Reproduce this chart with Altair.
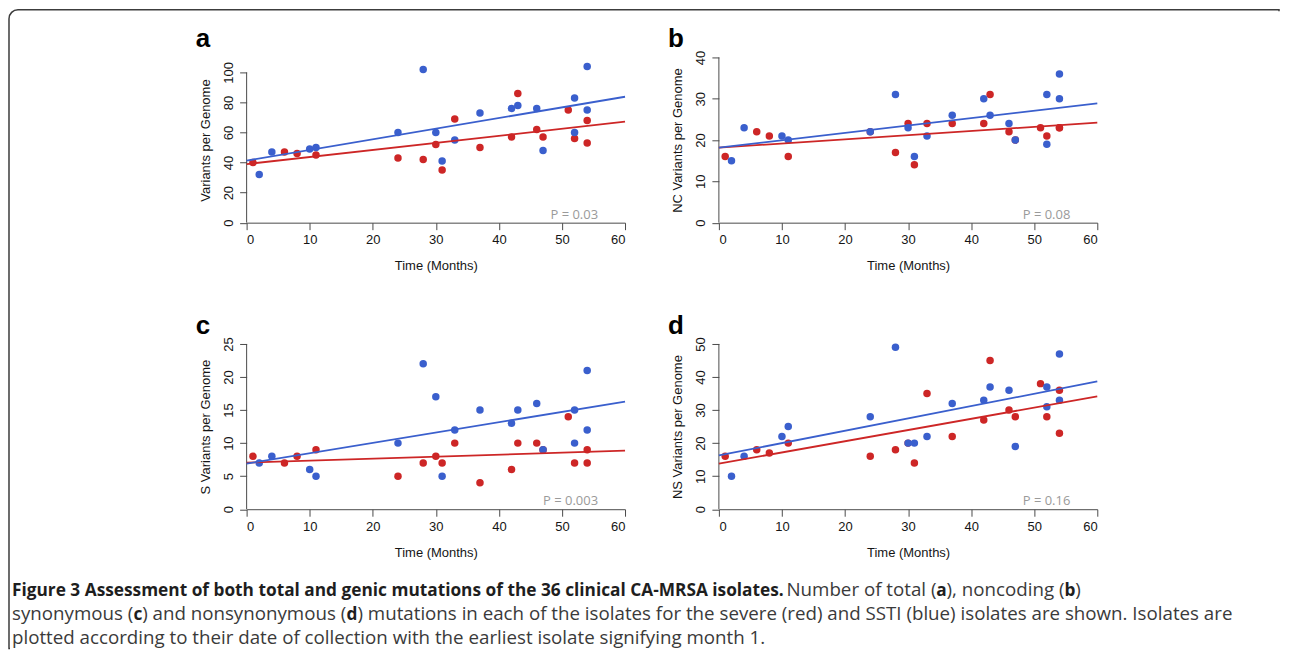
import altair as alt
import pandas as pd

# ---------------- data ----------------
months_severe = [1, 6, 8, 11, 24, 28, 30, 31, 33, 37, 42, 43, 46, 47, 51, 52, 54, 54]
months_ssti = [2, 4, 10, 11, 24, 28, 30, 31, 33, 37, 42, 43, 46, 47, 52, 52, 54, 54]

total_severe = [40, 47, 46, 45, 43, 42, 52, 35, 69, 50, 57, 86, 62, 57, 75, 56, 68, 53]
total_ssti = [32, 47, 49, 50, 60, 102, 60, 41, 55, 73, 76, 78, 76, 48, 83, 60, 104, 75]
nc_severe = [16, 22, 21, 16, 22, 17, 24, 14, 24, 24, 24, 31, 22, 20, 23, 21, 23, 23]
nc_ssti = [15, 23, 21, 20, 22, 31, 23, 16, 21, 26, 30, 26, 24, 20, 31, 19, 36, 30]
s_severe = [8, 7, 8, 9, 5, 7, 8, 7, 10, 4, 6, 10, 10, 9, 14, 7, 9, 7]
s_ssti = [7, 8, 6, 5, 10, 22, 17, 5, 12, 15, 13, 15, 16, 9, 15, 10, 21, 12]
ns_severe = [16, 18, 17, 20, 16, 18, 20, 14, 35, 22, 27, 45, 30, 28, 38, 28, 36, 23]
ns_ssti = [10, 16, 22, 25, 28, 49, 20, 20, 22, 32, 33, 37, 36, 19, 37, 31, 47, 33]

panel_letters = ["a", "b", "c", "d"]
y_titles = ["Variants per Genome", "NC Variants per Genome",
            "S Variants per Genome", "NS Variants per Genome"]
y_max = [110, 40, 25, 50]
y_tick_top = [100, 40, 25, 50]
y_tick_step = [20, 10, 5, 10]
p_texts = ["P = 0.03", "P = 0.08", "P = 0.003", "P = 0.16"]
x_ticks = [0, 10, 20, 30, 40, 50, 60]

RED = "#CD2626"
BLUE = "#3A5FCD"
AX = "#4a4a4a"
W, H = 379, 165.5

# caption
caption_lines = [
    [("Figure 3 Assessment of both total and genic mutations of the 36 clinical CA-MRSA isolates.", True),
     (" Number of total (", False), ("a", True), ("), noncoding (", False), ("b", True), (")", False)],
    [("synonymous (", False), ("c", True), (") and nonsynonymous (", False), ("d", True),
     (") mutations in each of the isolates for the severe (red) and SSTI (blue) isolates are shown. Isolates are", False)],
    [("plotted according to their date of collection with the earliest isolate signifying month 1.", False)],
]

# approximate Open Sans advance widths (units per 2048 em) for laying out caption segments
REG = {' ': 532, '(': 604, ')': 604, ',': 500, '.': 545, '-': 659, '1': 1171, '3': 1171, '6': 1171,
       'A': 1296, 'C': 1292, 'I': 623, 'M': 1849, 'N': 1516, 'R': 1268, 'S': 1094, 'T': 1098, 'F': 1063,
       'a': 1139, 'b': 1255, 'c': 975, 'd': 1255, 'e': 1149, 'f': 694, 'g': 1122, 'h': 1257, 'i': 518,
       'k': 1075, 'l': 518, 'm': 1905, 'n': 1257, 'o': 1237, 'p': 1255, 'r': 836, 's': 977, 't': 723,
       'u': 1257, 'v': 1026, 'w': 1593, 'y': 1028, 'x': 1073}
BOLD = {' ': 532, '(': 717, ')': 717, '.': 586, '-': 659, '3': 1171, '6': 1171, 'A': 1419, 'C': 1309,
        'F': 1141, 'M': 1974, 'R': 1362, 'S': 1104, 'a': 1200, 'b': 1268, 'c': 1006, 'd': 1268, 'e': 1188,
        'f': 770, 'g': 1128, 'h': 1319, 'i': 610, 'l': 610, 'm': 1989, 'n': 1319, 'o': 1243, 'r': 907,
        's': 1006, 't': 840, 'u': 1319, 'v': 1141, 'y': 1141}
REG_SIZE = 18.75
BOLD_SIZE = 17.3


def text_width(s, bold):
    tbl = BOLD if bold else REG
    size = BOLD_SIZE if bold else REG_SIZE
    k = 1.015 if bold else 1.0
    return sum(tbl.get(ch, 1150) for ch in s) * size / 2048.0 * k


series = {
    "a": (total_severe, total_ssti),
    "b": (nc_severe, nc_ssti),
    "c": (s_severe, s_ssti),
    "d": (ns_severe, ns_ssti),
}


def panel(i):
    letter = panel_letters[i]
    sev, ssti = series[letter]
    df = pd.DataFrame({
        "month": months_severe + months_ssti,
        "value": sev + ssti,
        "group": ["Severe"] * len(sev) + ["SSTI"] * len(ssti),
    })
    color = alt.Color("group:N", scale=alt.Scale(domain=["Severe", "SSTI"], range=[RED, BLUE]), legend=None)
    x = alt.X("month:Q", scale=alt.Scale(domain=[0, 60], nice=False, zero=False),
              axis=alt.Axis(values=x_ticks, title="Time (Months)", format="d"))
    y = alt.Y("value:Q", scale=alt.Scale(domain=[0, y_max[i]], nice=False),
              axis=alt.Axis(values=list(range(0, y_tick_top[i] + 1, y_tick_step[i])),
                            title=y_titles[i], domain=False, format="d",
                            labelAngle=270, labelAlign="center", labelBaseline="bottom"))

    yaxis_line = alt.Chart(pd.DataFrame({"value": [0], "value2": [y_tick_top[i]]})).mark_rule(
        color=AX, strokeWidth=1).encode(x=alt.datum(0), y=y, y2="value2:Q")
    pts = alt.Chart(df).mark_circle(size=56, opacity=1).encode(x=x, y=y, color=color)
    fit = alt.Chart(df).transform_regression(
        "month", "value", groupby=["group"], extent=[0, 60]
    ).mark_line(strokeWidth=1.8).encode(x=x, y=y, color=color)
    ptxt = alt.Chart(pd.DataFrame({"t": [p_texts[i]]})).mark_text(
        align="right", baseline="alphabetic", fontSize=13, font="Open Sans", color="#9a9a9a"
    ).encode(x=alt.value(W - 27), y=alt.value(H - 4), text="t:N")
    ltxt = alt.Chart(pd.DataFrame({"t": [letter]})).mark_text(
        align="left", baseline="alphabetic", fontSize=26, fontWeight="bold",
        font="Liberation Sans", color="#000000"
    ).encode(x=alt.value(-51), y=alt.value(-10), text="t:N")
    layers = [yaxis_line, pts, fit, ptxt, ltxt]

    if letter == "c":
        # figure frame (runs out of view at the right and bottom), relative to panel c plot origin
        fx1, fx2, fy1, fy2 = -238, 1034, -334.75, 305
        frame = alt.Chart(pd.DataFrame({"t": [0]})).mark_rect(
            fillOpacity=0, stroke="#3c3c3c", strokeWidth=1.5, cornerRadiusTopLeft=9
        ).encode(x=alt.value(fx1), x2=alt.value(fx2), y=alt.value(fy1), y2=alt.value(fy2))
        cover_bottom = alt.Chart(pd.DataFrame({"t": [0]})).mark_rule(
            stroke="white", strokeWidth=3
        ).encode(x=alt.value(fx1 + 1), x2=alt.value(fx2 + 1), y=alt.value(fy2))
        cover_right = alt.Chart(pd.DataFrame({"t": [0]})).mark_rule(
            stroke="white", strokeWidth=3
        ).encode(x=alt.value(fx2), y=alt.value(fy1 + 1.5), y2=alt.value(fy2 + 1))
        layers = [frame, cover_bottom, cover_right] + layers
        baselines = [252.5, 276.5, 300.5]
        for li, segs in enumerate(caption_lines):
            cx = -235.0
            for txt, bold in segs:
                lead = len(txt) - len(txt.lstrip(" "))
                cx += text_width(" " * lead, bold)
                t = txt.lstrip(" ")
                layers.append(
                    alt.Chart(pd.DataFrame({"t": [t]})).mark_text(
                        align="left", baseline="alphabetic",
                        fontSize=BOLD_SIZE if bold else REG_SIZE, font="Open Sans",
                        fontWeight="bold" if bold else "normal",
                        color="#1e1e1e" if bold else "#3a3a3a"
                    ).encode(x=alt.value(cx), y=alt.value(baselines[li]), text="t:N")
                )
                cx += text_width(t, bold)

    return alt.layer(*layers).properties(width=W, height=H)


chart = alt.concat(
    panel(0), panel(1), panel(2), panel(3),
    columns=2, spacing={"row": 121, "column": 94}, bounds="flush"
).properties(
    padding=0, background="white"
).configure_view(stroke=None).configure_axis(
    grid=False, domainColor=AX, domainWidth=1, tickColor=AX, tickWidth=1, tickSize=7,
    labelFont="Liberation Sans", labelFontSize=13, labelColor="#151515",
    titleFont="Liberation Sans", titleFontSize=13, titleFontWeight="normal", titleColor="#151515",
).configure_axisX(labelPadding=4, titlePadding=13).configure_axisY(labelPadding=4, titlePadding=10)

chart.save("out.html", embed_options={"renderer": "svg", "actions": False})
